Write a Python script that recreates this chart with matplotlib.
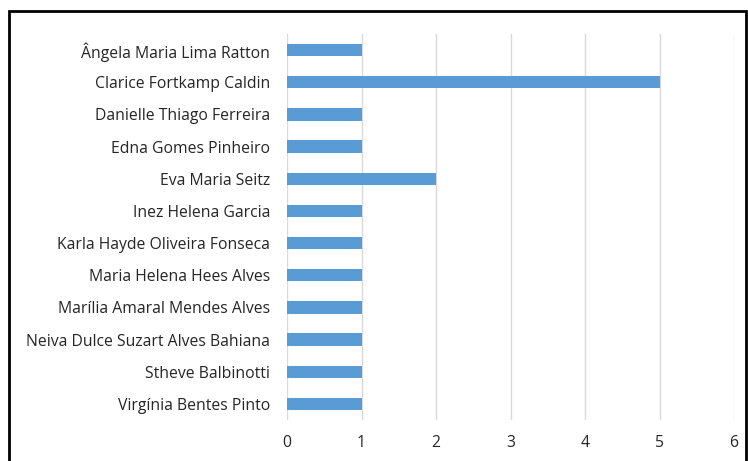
import matplotlib
matplotlib.use("Agg")
import matplotlib.pyplot as plt
from matplotlib.patches import Rectangle

# Names and counts (top to bottom)
names = [
    "Ângela Maria Lima Ratton",
    "Clarice Fortkamp Caldin",
    "Danielle Thiago Ferreira",
    "Edna Gomes Pinheiro",
    "Eva Maria Seitz",
    "Inez Helena Garcia",
    "Karla Hayde Oliveira Fonseca",
    "Maria Helena Hees Alves",
    "Marília Amaral Mendes Alves",
    "Neiva Dulce Suzart Alves Bahiana",
    "Stheve Balbinotti",
    "Virgínia Bentes Pinto",
]
counts = [1, 5, 1, 1, 2, 1, 1, 1, 1, 1, 1, 1]
xticks = [0, 1, 2, 3, 4, 5, 6]

plt.rcParams["font.family"] = ["Open Sans", "DejaVu Sans"]

W, H = 748, 461
fig = plt.figure(figsize=(W / 100, H / 100), dpi=100)
ax = fig.add_axes([287 / W, 1 - 420 / H, (734 - 287) / W, (420 - 34) / H])

pos = list(range(len(names)))
ax.barh(pos, counts, height=0.38, color="#5B9BD5", zorder=3)
ax.set_ylim(len(names) - 0.5, -0.5)
ax.set_yticks(pos)
ax.set_yticklabels(names, fontsize=11.3, color="#262626")
ax.set_xlim(0, 6)
ax.set_xticks(xticks)
ax.set_xticklabels([str(t) for t in xticks], fontsize=11.3, color="#262626")
ax.tick_params(axis="y", length=0, pad=12)
ax.tick_params(axis="x", length=0, pad=11)
ax.grid(axis="x", color="#d9d9d9", linewidth=1.0, zorder=0)
for s in ax.spines.values():
    s.set_visible(False)

# outer frame (bottom runs off the image)
fig.patches.append(Rectangle((9 / W, -0.1), (746 - 9) / W, 1.1 - 11 / H,
                             transform=fig.transFigure, fill=False,
                             edgecolor="black", linewidth=2))

fig.savefig("out.png", dpi=100)
